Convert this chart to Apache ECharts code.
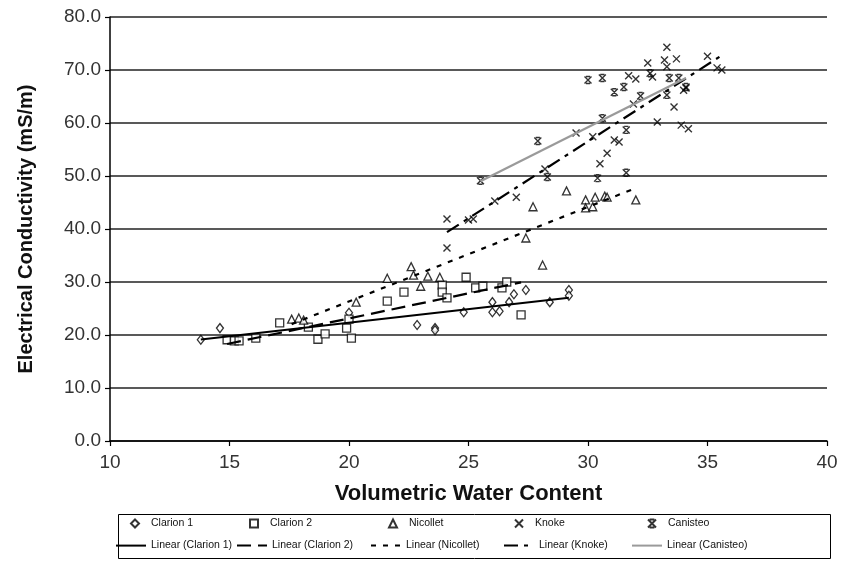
<!DOCTYPE html>
<html>
<head>
<meta charset="utf-8">
<script src="https://cdn.jsdelivr.net/npm/echarts@6/dist/echarts.min.js"></script>
<style>
  html, body { margin: 0; padding: 0; background: #fff; }
  #chart { width: 855px; height: 561px; }
</style>
</head>
<body>
<div id="chart"></div>
<script>
// Soil water content vs. electrical conductivity, five sites, each with a linear fit.
const yTicks = [0, 10, 20, 30, 40, 50, 60, 70, 80];
const xTicks = [10, 15, 20, 25, 30, 35, 40];

const clarion1 = [
  [13.8, 19.1], [14.6, 21.3], [20.0, 24.2], [22.85, 21.9], [23.6, 21.3], [23.6, 20.9],
  [24.8, 24.3], [26.0, 26.2], [26.0, 24.3], [26.3, 24.5], [26.7, 26.2], [26.9, 27.7],
  [27.4, 28.5], [28.4, 26.2], [29.2, 28.5], [29.2, 27.4]
];
const clarion2 = [
  [14.9, 19.1], [15.2, 18.9], [15.4, 18.9], [16.1, 19.4], [17.1, 22.3], [18.3, 21.5],
  [18.7, 19.2], [19.0, 20.2], [19.9, 21.3], [20.0, 23.0], [20.1, 19.4], [21.6, 26.4],
  [22.3, 28.1], [23.9, 29.4], [23.9, 28.1], [24.1, 27.0], [24.9, 30.9], [25.3, 28.9],
  [25.6, 29.2], [26.4, 28.9], [26.6, 30.0], [27.2, 23.8]
];
const nicollet = [
  [17.6, 23.0], [17.9, 23.2], [18.1, 22.8], [20.3, 26.2], [21.6, 30.7], [22.6, 32.9],
  [22.7, 31.3], [23.0, 29.2], [23.3, 31.1], [23.8, 30.9], [27.4, 38.3], [27.7, 44.2],
  [28.1, 33.2], [29.1, 47.2], [29.9, 45.5], [29.9, 44.0], [30.2, 44.2], [30.3, 46.0],
  [30.7, 46.2], [30.8, 46.0], [32.0, 45.5]
];
const knoke = [
  [24.1, 41.9], [24.1, 36.4], [25.0, 41.7], [25.2, 41.9], [26.1, 45.3], [27.0, 46.0],
  [28.2, 51.3], [29.5, 58.1], [30.2, 57.4], [30.5, 52.3], [30.8, 54.3], [31.1, 56.8],
  [31.3, 56.4], [31.7, 68.9], [31.9, 63.6], [32.0, 68.3], [32.5, 71.3], [32.7, 68.7],
  [32.9, 60.2], [33.2, 71.9], [33.3, 74.3], [33.3, 70.6], [33.6, 63.0], [33.7, 72.1],
  [33.9, 59.6], [34.0, 66.2], [34.1, 66.6], [34.2, 58.9], [35.0, 72.6], [35.4, 70.4],
  [35.6, 70.0]
];
const canisteo = [
  [25.5, 49.1], [27.9, 56.6], [28.3, 49.8], [30.0, 68.1], [30.6, 68.5], [30.4, 49.6],
  [30.6, 60.9], [31.1, 65.8], [31.5, 66.8], [31.6, 58.7], [31.6, 50.6], [32.2, 65.1],
  [32.6, 69.4], [33.3, 65.3], [33.4, 68.5], [33.8, 68.5], [34.1, 66.8]
];

// Least-squares line over the x-range of a point set
function linearFit(points) {
  const n = points.length;
  let sx = 0, sy = 0, sxx = 0, sxy = 0, xmin = Infinity, xmax = -Infinity;
  points.forEach(([x, y]) => {
    sx += x; sy += y; sxx += x * x; sxy += x * y;
    xmin = Math.min(xmin, x); xmax = Math.max(xmax, x);
  });
  const b = (n * sxy - sx * sy) / (n * sxx - sx * sx);
  const a = (sy - b * sx) / n;
  return [[xmin, a + b * xmin], [xmax, a + b * xmax]];
}

const FONT = 'Liberation Sans, Arial, Helvetica, sans-serif';
const crossPath = 'path://M0,0L10,10M10,0L0,10';
const starPath = 'path://M2,0L8,0M2,10L8,10M0,0L10,10M10,0L0,10';

const markerStyle = { color: '#fff', borderColor: '#000', borderWidth: 1.3 };
const strokeOnly = { color: 'rgba(0,0,0,0)', borderColor: '#000', borderWidth: 1.4 };

function scatter(name, data, symbol, size, style) {
  return { name, type: 'scatter', data, symbol, symbolSize: size, itemStyle: style, z: 3 };
}
function trend(name, points, color, type, width) {
  return {
    name, type: 'line', data: linearFit(points), symbol: 'none', showSymbol: false,
    lineStyle: { color, type, width }, itemStyle: { color }, z: 4, silent: true
  };
}

const series = [
  scatter('Clarion 1', clarion1, 'diamond', [7, 9], markerStyle),
  scatter('Clarion 2', clarion2, 'rect', 8, markerStyle),
  scatter('Nicollet', nicollet, 'triangle', 8, markerStyle),
  scatter('Knoke', knoke, crossPath, 7, strokeOnly),
  scatter('Canisteo', canisteo, starPath, 7, strokeOnly),
  trend('Linear (Clarion 1)', clarion1, '#000', 'solid', 2),
  trend('Linear (Clarion 2)', clarion2, '#000', [14, 7], 2.2),
  trend('Linear (Nicollet)', nicollet, '#000', [5, 7], 2.2),
  trend('Linear (Knoke)', knoke, '#000', [14, 6, 4, 6], 2.2),
  trend('Linear (Canisteo)', canisteo, '#9a9a9a', 'solid', 2.2)
];

// One small legend per entry so the two rows keep their column spacing
const legendText = { fontFamily: FONT, fontSize: 10.5, color: '#111' };
const markerLegends = [
  ['Clarion 1', 130], ['Clarion 2', 249], ['Nicollet', 388], ['Knoke', 514], ['Canisteo', 647]
].map(([name, left]) => ({
  data: [name], left, top: 518, padding: 0, itemWidth: 8, itemHeight: 8,
  selectedMode: false, textStyle: Object.assign({ padding: [0, 0, 0, 7] }, legendText)
}));
const lineLegends = [
  ['Linear (Clarion 1)', 115], ['Linear (Clarion 2)', 236], ['Linear (Nicollet)', 370],
  ['Linear (Knoke)', 503], ['Linear (Canisteo)', 631]
].map(([name, left]) => ({
  data: [name], left, top: 540, padding: 0, itemWidth: 30, itemHeight: 14,
  selectedMode: false, textStyle: legendText,
  itemStyle: { opacity: 0 }
}));

const chart = echarts.init(document.getElementById('chart'), null, { renderer: 'canvas' });
chart.setOption({
  animation: false,
  backgroundColor: '#fff',
  grid: { left: 110, right: 28, top: 17, bottom: 120, containLabel: false },
  xAxis: {
    type: 'value', min: xTicks[0], max: xTicks[xTicks.length - 1], interval: 5,
    name: 'Volumetric Water Content', nameLocation: 'middle', nameGap: 42,
    nameTextStyle: { fontFamily: FONT, fontSize: 22, fontWeight: 'bold', color: '#111' },
    axisLine: { show: true, lineStyle: { color: '#000', width: 1.5 } },
    axisTick: { show: true, length: 5, lineStyle: { color: '#000', width: 1.2 } },
    axisLabel: { fontFamily: FONT, fontSize: 19, color: '#333', margin: 12 },
    splitLine: { show: false }
  },
  yAxis: {
    type: 'value', min: yTicks[0], max: yTicks[yTicks.length - 1], interval: 10,
    name: 'Electrical Conductivity (mS/m)', nameLocation: 'middle', nameGap: 74,
    nameTextStyle: { fontFamily: FONT, fontSize: 20, fontWeight: 'bold', color: '#111' },
    axisLine: { show: true, lineStyle: { color: '#000', width: 1.5 } },
    axisTick: { show: true, length: 5, lineStyle: { color: '#000', width: 1.2 } },
    axisLabel: {
      fontFamily: FONT, fontSize: 19, color: '#333', margin: 9,
      formatter: v => v.toFixed(1)
    },
    splitLine: { show: true, lineStyle: { color: '#222', width: 1.6 } }
  },
  legend: markerLegends.concat(lineLegends),
  graphic: [{
    type: 'rect', left: 116, top: 512,
    shape: { width: 712, height: 44 },
    style: { fill: 'none', stroke: '#000', lineWidth: 1 }
  }],
  series
});
</script>
</body>
</html>
